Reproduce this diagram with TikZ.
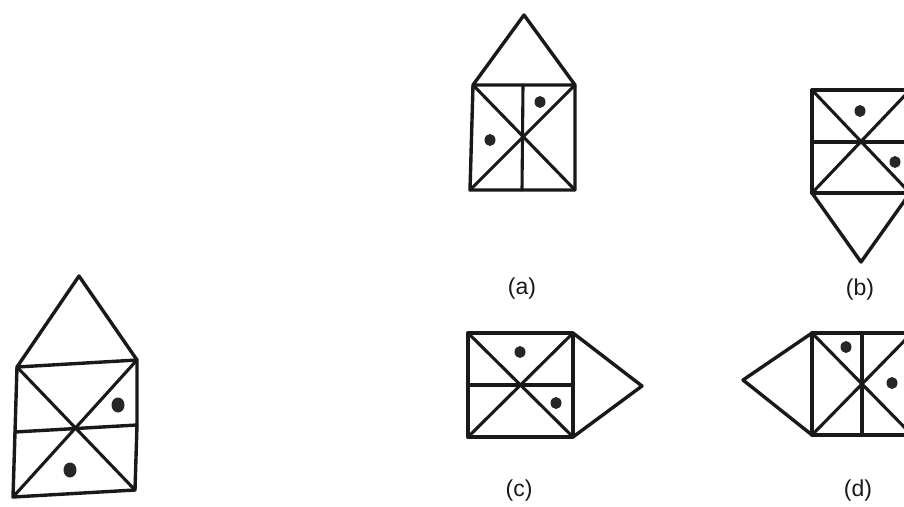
\documentclass[tikz,border=0pt]{standalone}
\usepackage{fontspec}
\setmainfont{Liberation Sans}
\begin{document}
\begin{tikzpicture}[x=1pt,y=-1pt,
  fig/.style={line width=3.4pt,draw=black!90,line join=round,line cap=round},
  thin fig/.style={line width=3.1pt,draw=black!90,line join=round,line cap=round},
  spot/.style={fill=black!85,draw=none},
  lbl/.style={font=\fontsize{23}{23}\selectfont,text=black!90,inner sep=0pt}]
\clip (0,0) rectangle (904,506);
\fill[white] (0,0) rectangle (904,506);

% ---------- question figure (left) ----------
\coordinate (qA) at (79,276);
\coordinate (qTL) at (17,367);
\coordinate (qTR) at (137,360);
\coordinate (qML) at (15,432);
\coordinate (qMR) at (137,425);
\coordinate (qBL) at (13,497);
\coordinate (qBR) at (135,490);
\draw[fig] (qTL) -- (qA) -- (qTR);
\draw[fig] (qTL) -- (qTR) -- (qMR) -- (qBR) -- (qBL) -- (qML) -- cycle;
\draw[fig] (qML) -- (qMR);
\draw[thin fig] (qTL) -- (qBR);
\draw[thin fig] (qTR) -- (qBL);
\fill[spot] (118,405) ellipse (6.5pt and 7.5pt);
\fill[spot] (70,470) ellipse (6.5pt and 7.5pt);

% ---------- (a) ----------
\coordinate (aA) at (524,15);
\coordinate (aTL) at (473,85);
\coordinate (aTR) at (575,85);
\coordinate (aBL) at (470,190);
\coordinate (aBR) at (575,190);
\coordinate (aTM) at (523,85);
\coordinate (aBM) at (522,190);
\draw[fig] (aTL) -- (aA) -- (aTR);
\draw[fig] (aTL) -- (aTR) -- (aBR) -- (aBL) -- cycle;
\draw[thin fig] (aTM) -- (aBM);
\draw[thin fig] (aTL) -- (aBR);
\draw[thin fig] (aTR) -- (aBL);
\fill[spot] (540,102) ellipse (5.5pt and 6pt);
\fill[spot] (490,140) ellipse (5.5pt and 6pt);
\node[lbl] (la) at (522,289) {(a)};

% ---------- (b) ----------
\coordinate (bTL) at (812,90);
\coordinate (bTR) at (910,90);
\coordinate (bML) at (812,142);
\coordinate (bMR) at (910,142);
\coordinate (bBL) at (812,193);
\coordinate (bBR) at (910,193);
\coordinate (bA) at (861,262);
\draw[fig] (bTR) -- (bTL) -- (bBL) -- (bBR);
\draw[thin fig] (bML) -- (bMR);
\draw[thin fig] (bTL) -- (bBR);
\draw[thin fig] (bBL) -- (bTR);
\draw[fig] (bBL) -- (bA) -- (bBR);
\fill[spot] (860,111) ellipse (5.5pt and 6pt);
\fill[spot] (895,162) ellipse (5.5pt and 6pt);
\node[lbl] (lb) at (860,290) {(b)};

% ---------- (c) ----------
\coordinate (cTL) at (468,333);
\coordinate (cTR) at (573,333);
\coordinate (cML) at (468,385);
\coordinate (cMR) at (573,385);
\coordinate (cBL) at (468,437);
\coordinate (cBR) at (573,437);
\coordinate (cA) at (642,386);
\draw[fig] (cTL) -- (cTR) -- (cBR) -- (cBL) -- cycle;
\draw[fig] (cTR) -- (cA) -- (cBR);
\draw[thin fig] (cML) -- (cMR);
\draw[thin fig] (cTL) -- (cBR);
\draw[thin fig] (cTR) -- (cBL);
\fill[spot] (520,352) ellipse (5.5pt and 6pt);
\fill[spot] (556,403) ellipse (5.5pt and 6pt);
\node[lbl] (lc) at (519,491) {(c)};

% ---------- (d) ----------
\coordinate (dTL) at (812,333);
\coordinate (dTR) at (912,333);
\coordinate (dBL) at (812,435);
\coordinate (dBR) at (912,435);
\coordinate (dTM) at (862,333);
\coordinate (dBM) at (862,435);
\coordinate (dA) at (743,380);
\draw[fig] (dTR) -- (dTL) -- (dBL) -- (dBR);
\draw[fig] (dTL) -- (dA) -- (dBL);
\draw[thin fig] (dTM) -- (dBM);
\draw[thin fig] (dTL) -- (dBR);
\draw[thin fig] (dBL) -- (dTR);
\fill[spot] (846,347) ellipse (5.5pt and 6pt);
\fill[spot] (892,383) ellipse (5.5pt and 6pt);
\node[lbl] (ld) at (858,491) {(d)};
\end{tikzpicture}
\end{document}
